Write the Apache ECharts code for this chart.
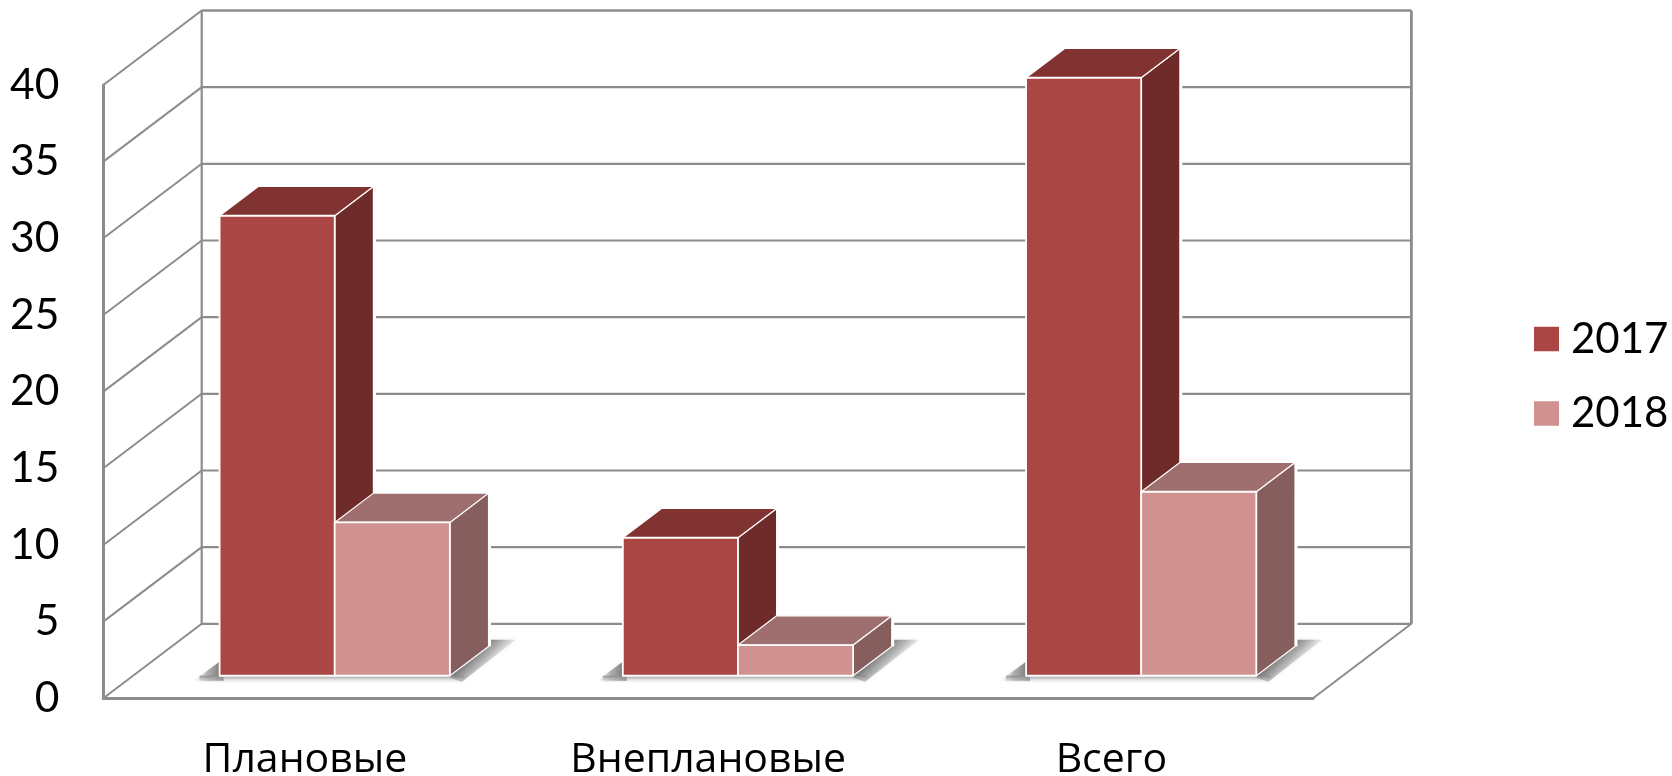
<!DOCTYPE html>
<html><head><meta charset="utf-8">
<style>html,body{margin:0;padding:0;background:#fff}#c{width:1672px;height:776px}</style>
<script src="https://cdn.jsdelivr.net/npm/echarts@6/dist/echarts.min.js"></script>
</head><body><div id="c"></div>
<script>
const categories = ['Плановые', 'Внеплановые', 'Всего'];
const values2017 = [30, 9, 39];
const values2018 = [10, 2, 12];
const ticks = [0, 5, 10, 15, 20, 25, 30, 35, 40];

const DEPTH_X = 98.4, DEPTH_Y = -74.5;  // oblique projection of the full floor depth
const BAR_F = 0.303, BAR_D = 0.393;     // bar front plane and bar thickness, as depth fractions
const BAR_W = 0.2855;                   // bar width as fraction of category band
const GRID = '#8c8c8c';
const FONT = 'Lato';

const chart = echarts.init(document.getElementById('c'), null, {renderer: 'canvas'});

function poly(points, fill, stroke, lw) {
  return {type: 'polygon', shape: {points},
    style: {fill, stroke: stroke || null, lineWidth: lw || 0, lineJoin: 'round'}};
}
function line(x1, y1, x2, y2, w) {
  return {type: 'line', shape: {x1, y1, x2, y2}, style: {stroke: GRID, lineWidth: w || 2, fill: null}};
}

function frameItem(params, api) {
  const v = api.value(0);
  const cs = params.coordSys;
  const y = api.coord([0, v])[1];
  const xl = cs.x, xr = cs.x + cs.width;
  const kids = [
    line(xl, y, xl + DEPTH_X, y + DEPTH_Y, 2),
    line(xl + DEPTH_X, y + DEPTH_Y, xr + DEPTH_X, y + DEPTH_Y, v === 40 ? 2.5 : 2.2)
  ];
  if (v === 0) {
    kids.push(line(xr, y, xr + DEPTH_X, y + DEPTH_Y, 2));
    const top = api.coord([0, 40])[1] + DEPTH_Y;
    kids.push(line(xl + DEPTH_X, y + DEPTH_Y, xl + DEPTH_X, top, 2.2));
    kids.push(line(xr + DEPTH_X, y + DEPTH_Y, xr + DEPTH_X, top, 2.8));
  }
  return {type: 'group', children: kids};
}

function shadowItem(params, api) {
  const p = api.coord([api.value(0), 0]);
  const band = api.size([1, 0])[0];
  const cx = p[0] + DEPTH_X * BAR_F, y = p[1] + DEPTH_Y * BAR_F;
  const w = band * BAR_W;
  const L = cx - w, R = cx + w;
  const G = echarts.graphic.LinearGradient;
  return {type: 'group', children: [
    {type: 'polygon', shape: {points: [[R - 2, y + 1], [R + 12, y + 6], [R + 66, y - 36], [R + 36, y - 36], [R - 2, y - 10]]},
      style: {fill: new G(R + 19, y - 18, R + 40, y + 3, [
        {offset: 0, color: 'rgba(115,115,115,1)'},
        {offset: 0.4, color: 'rgba(165,165,165,0.8)'},
        {offset: 1, color: 'rgba(245,245,245,0.05)'}], true),
        shadowBlur: 4, shadowColor: 'rgba(210,210,210,0.5)'}},
    {type: 'polygon', shape: {points: [[L + 4, y - 17], [L + 4, y + 5], [L - 26, y + 5]]},
      style: {fill: new G(L + 4, y, L - 26, y, [
        {offset: 0, color: 'rgba(110,110,110,1)'},
        {offset: 0.55, color: 'rgba(160,160,160,0.8)'},
        {offset: 1, color: 'rgba(240,240,240,0.1)'}], true),
        shadowBlur: 3, shadowColor: 'rgba(215,215,215,0.5)'}},
    {type: 'rect', shape: {x: L - 20, y: y, width: R - L + 34, height: 7},
      style: {fill: new G(0, 0, 0, 1, [
        {offset: 0, color: 'rgba(135,135,135,0.9)'},
        {offset: 1, color: 'rgba(240,240,240,0.2)'}])}}
  ]};
}

function barItem(offsetSign, front, top, side) {
  return function (params, api) {
    const idx = api.value(0), v = api.value(1);
    const p0 = api.coord([idx, 0]), pv = api.coord([idx, v]);
    const band = api.size([1, 0])[0];
    const w = band * BAR_W;
    const cx = p0[0] + DEPTH_X * BAR_F;
    const x0 = offsetSign < 0 ? cx - w : cx;
    const x1 = x0 + w;
    const yb = p0[1] + DEPTH_Y * BAR_F, yt = pv[1] + DEPTH_Y * BAR_F;
    const dx = DEPTH_X * BAR_D, dy = DEPTH_Y * BAR_D;
    const halo = {type: 'polyline', shape: {points: [[x1 + dx, yt + dy], [x1 + dx, yb + dy]]},
      style: {stroke: '#fff', lineWidth: 5, fill: null}};
    return {type: 'group', children: [
      halo,
      poly([[x1, yt], [x1 + dx, yt + dy], [x1 + dx, yb + dy], [x1, yb]], side, '#fff', 1.2),
      poly([[x0, yt], [x0 + dx, yt + dy], [x1 + dx, yt + dy], [x1, yt]], top, '#fff', 1.2),
      poly([[x0, yt], [x1, yt], [x1, yb], [x0, yb]], front, '#fff', 1.8)
    ]};
  };
}

chart.setOption({
  animation: false,
  backgroundColor: '#fff',
  textStyle: {fontFamily: FONT},
  grid: {left: 103.3, right: 359, top: 85, bottom: 77.7, containLabel: false, outerBoundsMode: 'none'},
  legend: {
    left: 1534, top: 318,
    orient: 'vertical',
    data: ['2017', '2018'],
    itemWidth: 25, itemHeight: 24.5, itemGap: 32.5,
    padding: 0,
    icon: 'rect',
    textStyle: {fontFamily: FONT, fontSize: 42, color: '#000', padding: [0, 0, 0, 7]}
  },
  xAxis: {
    type: 'category', data: categories,
    axisTick: {show: false},
    axisLine: {lineStyle: {color: GRID, width: 3}},
    axisLabel: {fontFamily: 'Open Sans', fontSize: 41, color: '#000', margin: 42},
    splitLine: {show: false}
  },
  yAxis: {
    type: 'value', min: 0, max: 40, interval: 5,
    axisTick: {show: false},
    axisLine: {show: true, lineStyle: {color: GRID, width: 3}},
    axisLabel: {fontFamily: FONT, fontSize: 42.5, color: '#000', margin: 44, padding: [7, 0, 0, 0]},
    splitLine: {show: false}
  },
  series: [
    {type: 'custom', name: 'frame', coordinateSystem: 'cartesian2d', silent: true,
      data: ticks.map(t => [t]), encode: {x: -1, y: 0}, renderItem: frameItem, z: 1, clip: false},
    {type: 'custom', name: 'shadow', coordinateSystem: 'cartesian2d', silent: true,
      data: categories.map((c, i) => [i]), encode: {x: 0, y: -1}, renderItem: shadowItem, z: 2, clip: false},
    {type: 'custom', name: '2017', coordinateSystem: 'cartesian2d',
      itemStyle: {color: '#AA4643'}, z: 3, clip: false,
      data: values2017.map((v, i) => [i, v]), encode: {x: 0, y: 1},
      renderItem: barItem(-1, '#AA4643', '#813331', '#6E2B2A')},
    {type: 'custom', name: '2018', coordinateSystem: 'cartesian2d',
      itemStyle: {color: '#D09191'}, z: 4, clip: false,
      data: values2018.map((v, i) => [i, v]), encode: {x: 0, y: 1},
      renderItem: barItem(1, '#D09191', '#9F6F6F', '#855E5D')}
  ]
});
</script></body></html>
